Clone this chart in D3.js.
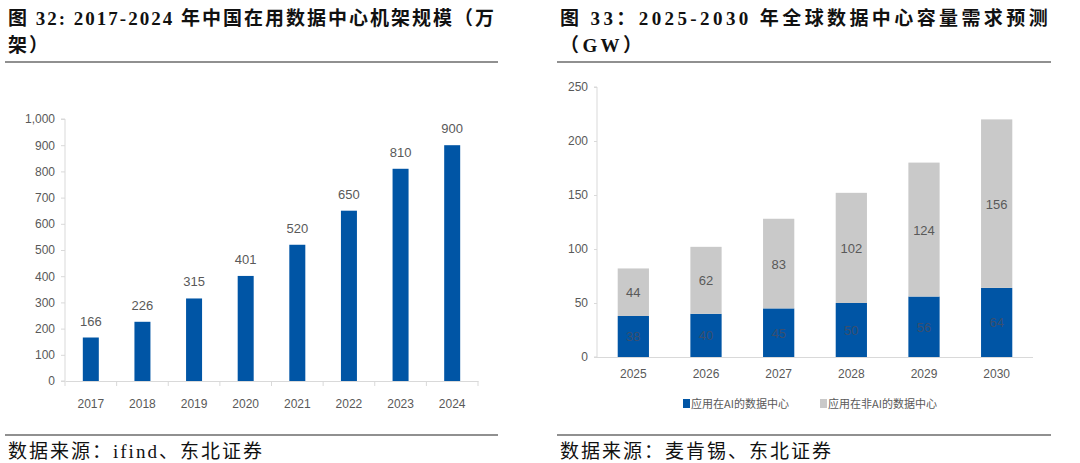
<!DOCTYPE html>
<html>
<head>
<meta charset="utf-8">
<style>
  body { margin: 0; background: #fff; }
  svg { display: block; }
  .title { font-family: "Liberation Serif", "Noto Sans CJK SC", serif; font-weight: bold; font-size: 19px; fill: #111; }
  .source { font-family: "Liberation Serif", "Noto Sans CJK SC", serif; font-size: 19px; letter-spacing: 2px; fill: #111; }
  .tick text { font-family: "Liberation Sans Narrow", "Liberation Sans", sans-serif; font-size: 12px; fill: #595959; }
  .lbl { font-family: "Liberation Sans Narrow", "Liberation Sans", sans-serif; font-size: 13px; fill: #595959; }
  .legend { font-family: "Noto Sans CJK SC", sans-serif; font-size: 11px; fill: #595959; }
</style>
</head>
<body>
<script src="https://cdn.jsdelivr.net/npm/d3@7"></script>
<script>
// left chart: racks in use (10k)
const rackYears = ['2017', '2018', '2019', '2020', '2021', '2022', '2023', '2024'];
const rackValues = [166, 226, 315, 401, 520, 650, 810, 900];
const rackTicks = [0, 100, 200, 300, 400, 500, 600, 700, 800, 900, 1000];

// right chart: global data center capacity demand (GW)
const capYears = ['2025', '2026', '2027', '2028', '2029', '2030'];
const aiValues = [38, 40, 45, 50, 56, 64];
const nonAiValues = [44, 62, 83, 102, 124, 156];
const capTicks = [0, 50, 100, 150, 200, 250];
const seriesNames = ['应用在AI的数据中心', '应用在非AI的数据中心'];

const blue = '#0055a5';
const grey = '#c9c9c9';
const axisCol = '#d9d9d9';

const svg = d3.select('body').append('svg')
  .attr('width', 1080)
  .attr('height', 463);

// titles + rules
function header(x0, x1, lines, spacing) {
  lines.forEach((t, i) => {
    svg.append('text').attr('class', 'title')
      .attr('x', x0 + 3).attr('y', 25 + i * 27)
      .style('letter-spacing', spacing + 'px')
      .text(t);
  });
  svg.append('line').attr('x1', x0).attr('x2', x1).attr('y1', 62).attr('y2', 62)
    .attr('stroke', '#222').attr('stroke-width', 1.2);
}
function footer(x0, x1, t) {
  svg.append('line').attr('x1', x0).attr('x2', x1).attr('y1', 435).attr('y2', 435)
    .attr('stroke', '#222').attr('stroke-width', 1.2);
  svg.append('text').attr('class', 'source')
    .attr('x', x0 + 3).attr('y', 458)
    .text(t);
}

header(5, 498, ['图 32: 2017-2024 年中国在用数据中心机架规模（万', '架）'], 2);
header(557, 1051, ['图  33：2025-2030 年全球数据中心容量需求预测', '（GW）'], 3.4);
footer(5, 498, '数据来源：ifind、东北证券');
footer(557, 1051, '数据来源：麦肯锡、东北证券');

// ---- left chart ----
const x1 = d3.scaleBand().domain(rackYears).range([65, 478]).paddingInner(0.69).paddingOuter(0.345);
const xb1 = d3.scaleBand().domain(rackYears).range([65, 478]);
const y1 = d3.scaleLinear().domain([0, 1000]).range([381, 119]);

const g1 = svg.append('g');

g1.append('g')
  .attr('transform', 'translate(65,0)')
  .call(d3.axisLeft(y1).tickValues(rackTicks).tickFormat(d3.format(',')).tickSize(4).tickPadding(6))
  .call(g => g.selectAll('line, path').attr('stroke', axisCol))
  .call(g => g.select('.domain').attr('d', 'M-4,119H0V381H-4'));

g1.append('g')
  .attr('transform', 'translate(0,381)')
  .call(d3.axisBottom(xb1).tickSize(0).tickPadding(18))
  .call(g => g.select('.domain').attr('stroke', axisCol));

// category boundary ticks
g1.selectAll('.sep').data(rackYears.concat(['end']))
  .enter().append('line')
  .attr('x1', (d, i) => 65 + i * xb1.step())
  .attr('x2', (d, i) => 65 + i * xb1.step())
  .attr('y1', 381).attr('y2', 386)
  .attr('stroke', axisCol);

g1.selectAll('.bar').data(rackValues)
  .enter().append('rect')
  .attr('x', (d, i) => x1(rackYears[i]))
  .attr('y', d => y1(d))
  .attr('width', x1.bandwidth())
  .attr('height', d => y1(0) - y1(d))
  .attr('fill', blue);

g1.selectAll('.lbl').data(rackValues)
  .enter().append('text').attr('class', 'lbl')
  .attr('x', (d, i) => x1(rackYears[i]) + x1.bandwidth() / 2)
  .attr('y', d => y1(d) - 12)
  .attr('text-anchor', 'middle')
  .text(d => d);

// ---- right chart ----
const x2 = d3.scaleBand().domain(capYears).range([597, 1033]).paddingInner(0.57).paddingOuter(0.285);
const y2 = d3.scaleLinear().domain([0, 250]).range([357, 87]);

const g2 = svg.append('g');

g2.append('g')
  .attr('transform', 'translate(597,0)')
  .call(d3.axisLeft(y2).tickValues(capTicks).tickSize(3).tickPadding(6))
  .call(g => g.selectAll('line, path').attr('stroke', axisCol))
  .call(g => g.select('.domain').attr('d', 'M-3,87H0V357H-3'));

g2.append('g')
  .attr('transform', 'translate(0,357)')
  .call(d3.axisBottom(x2).tickSize(0).tickPadding(12))
  .call(g => g.select('.domain').attr('stroke', axisCol).attr('d', 'M597,0.5H1033'));

const stacked = capYears.map((yr, i) => ({ yr, ai: aiValues[i], non: nonAiValues[i] }));
const stack = d3.stack().keys(['ai', 'non'])(stacked);
const fills = [blue, grey];
const labelCol = ['#3a4f6e', '#595959'];

stack.forEach((layer, k) => {
  g2.selectAll('.seg' + k).data(layer)
    .enter().append('rect')
    .attr('x', d => x2(d.data.yr))
    .attr('y', d => y2(d[1]))
    .attr('width', x2.bandwidth())
    .attr('height', d => y2(d[0]) - y2(d[1]))
    .attr('fill', fills[k]);
  g2.selectAll('.sl' + k).data(layer)
    .enter().append('text').attr('class', 'lbl')
    .attr('x', d => x2(d.data.yr) + x2.bandwidth() / 2)
    .attr('y', d => (y2(d[0]) + y2(d[1])) / 2 + 5)
    .attr('text-anchor', 'middle')
    .style('fill', labelCol[k])
    .text(d => d[1] - d[0]);
});

// legend
const legX = [683, 820];
seriesNames.forEach((n, k) => {
  svg.append('rect').attr('x', legX[k]).attr('y', 399).attr('width', 7).attr('height', 9).attr('fill', fills[k]);
  svg.append('text').attr('class', 'legend').attr('x', legX[k] + 8).attr('y', 408).text(n);
});
</script>
</body>
</html>
